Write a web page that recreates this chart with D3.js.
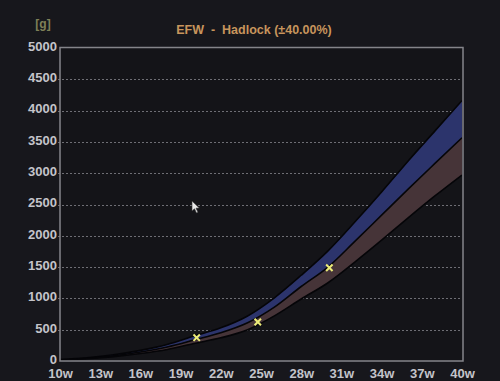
<!DOCTYPE html>
<html>
<head>
<meta charset="utf-8">
<script src="https://cdn.jsdelivr.net/npm/d3@7/dist/d3.min.js"></script>
<style>
  html, body { margin: 0; padding: 0; background: #17171c; }
  svg { display: block; }
</style>
</head>
<body>
<script>
// ---- data ----
const weeks = [10, 12, 14, 16, 18, 20, 22, 24, 26, 28, 30, 32, 34, 36, 38, 40];
const efwMean  = [20, 45, 85, 145, 225, 335, 450, 610, 860, 1190, 1500, 1910, 2330, 2750, 3160, 3567];
const efwUpper = [24, 53, 100, 170, 265, 400, 530, 720, 1010, 1370, 1760, 2220, 2700, 3200, 3680, 4160];
const efwLower = [16, 37, 70, 120, 185, 280, 370, 500, 720, 990, 1250, 1580, 1930, 2290, 2640, 2971];
const measWeeks = [20.2, 24.76, 30.1];
const measEfw   = [372, 623, 1490];
const xTicks = [10, 13, 16, 19, 22, 25, 28, 31, 34, 37, 40];
const yTicks = [0, 500, 1000, 1500, 2000, 2500, 3000, 3500, 4000, 4500, 5000];
const titleText = "EFW  -  Hadlock (\u00B140.00%)";
const unitText = "[g]";

// ---- layout ----
const W = 500, H = 381;
const svg = d3.select("body").append("svg").attr("width", W).attr("height", H);
svg.append("rect").attr("width", W).attr("height", H).attr("fill", "#17171c");

const x = d3.scaleLinear().domain([10, 40]).range([60, 462]);
const y = d3.scaleLinear().domain([0, 5000]).range([361, 48]);

// plot background
svg.append("rect").attr("x", 60).attr("y", 48).attr("width", 403).attr("height", 313)
  .attr("fill", "#141418");

// gridlines
svg.append("g").selectAll("line").data(yTicks.filter(d => d > 0 && d < 5000)).join("line")
  .attr("x1", 58).attr("x2", 462)
  .attr("y1", d => Math.round(y(d)) + 0.5).attr("y2", d => Math.round(y(d)) + 0.5)
  .attr("stroke", "#6e6e74").attr("stroke-width", 1).attr("stroke-dasharray", "2,2");

const rows = weeks.map((w, i) => ({ w, m: efwMean[i], u: efwUpper[i], l: efwLower[i] }));
const curve = d3.curveMonotoneX;

// bands
svg.append("path").datum(rows)
  .attr("d", d3.area().x(d => x(d.w)).y0(d => y(d.m)).y1(d => y(d.u)).curve(curve))
  .attr("fill", "#2c346c");
svg.append("path").datum(rows)
  .attr("d", d3.area().x(d => x(d.w)).y0(d => y(d.l)).y1(d => y(d.m)).curve(curve))
  .attr("fill", "#463438");

// boundary lines
["u", "m", "l"].forEach(k => {
  svg.append("path").datum(rows)
    .attr("d", d3.line().x(d => x(d.w)).y(d => y(d[k])).curve(curve))
    .attr("fill", "none").attr("stroke", "#050508").attr("stroke-width", 1.6);
});

// frame
svg.append("rect").attr("x", 60).attr("y", 47.5).attr("width", 403).attr("height", 313.5)
  .attr("fill", "none").attr("stroke", "#85858a").attr("stroke-width", 1.5);

// axes
const xAxis = d3.axisBottom(x).tickValues(xTicks).tickFormat(d => d + "w").tickSize(0).tickPadding(8);
const gx = svg.append("g").attr("transform", "translate(0,361)").call(xAxis);
gx.select(".domain").remove();
gx.selectAll("text").attr("fill", "#c4c4ca").style("font", "bold 13px 'Liberation Sans', Arial, sans-serif");

const yAxis = d3.axisLeft(y).tickValues(yTicks).tickFormat(d3.format("d")).tickSize(0).tickPadding(3);
const gy = svg.append("g").attr("transform", "translate(60,0)").call(yAxis);
gy.select(".domain").remove();
gy.selectAll("text").attr("fill", "#c4c4ca").attr("dy", "0.18em")
  .style("font", "bold 13px 'Liberation Sans', Arial, sans-serif");

// measurement markers
const s = 3.2;
const mk = svg.append("g").selectAll("g").data(measWeeks.map((w, i) => ({ w, v: measEfw[i] }))).join("g")
  .attr("transform", d => `translate(${x(d.w)},${y(d.v)})`);
mk.append("path").attr("d", `M${-s},${-s}L${s},${s}M${-s},${s}L${s},${-s}`)
  .attr("stroke", "#ecec78").attr("stroke-width", 2);

// title & unit
svg.append("text").attr("x", 254).attr("y", 34).attr("text-anchor", "middle")
  .attr("fill", "#c8955c").style("font", "bold 12.5px 'Liberation Sans', Arial, sans-serif")
  .style("white-space", "pre").text(titleText);
svg.append("text").attr("x", 43).attr("y", 28).attr("text-anchor", "middle")
  .attr("fill", "#7f8058").style("font", "bold 12px 'Liberation Sans', Arial, sans-serif")
  .text(unitText);

// mouse pointer (screen artifact)
svg.append("path")
  .attr("d", "M0,0 L0,10 L2.5,7.8 L4.5,12 L6,11.3 L4,7.2 L7.3,7 Z")
  .attr("transform", "translate(192,201)")
  .attr("fill", "#e8e8e8").attr("stroke", "#333").attr("stroke-width", 0.6);
</script>
</body>
</html>
